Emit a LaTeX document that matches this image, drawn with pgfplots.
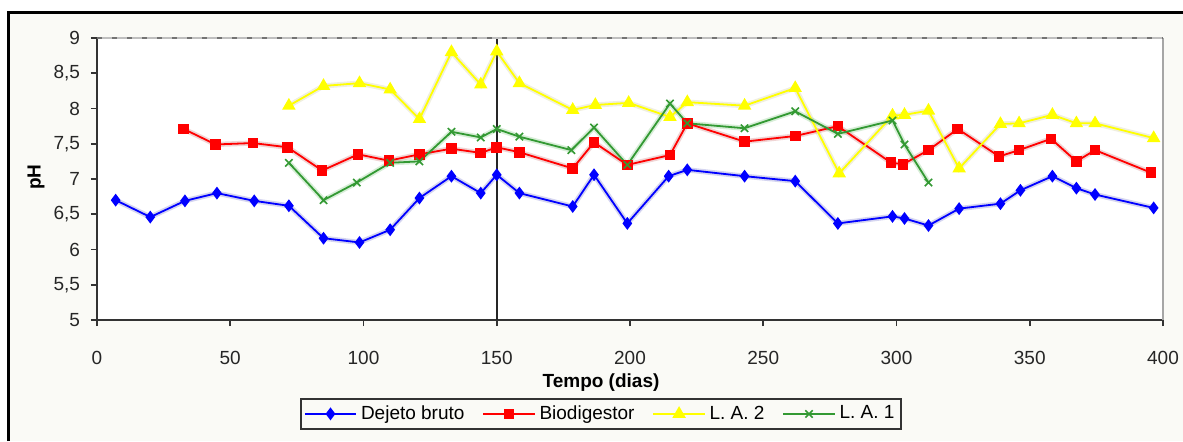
\documentclass[border=0pt]{standalone}
\usepackage{fontspec}
\setmainfont{Liberation Sans}
\usepackage{pgfplots}
\usepackage{pgfplotstable}
\pgfplotsset{compat=1.18}

\definecolor{framebg}{RGB}{250,250,246}
\definecolor{sBlue}{RGB}{0,0,255}
\definecolor{sRed}{RGB}{255,0,0}
\definecolor{sYellow}{RGB}{255,255,0}
\definecolor{sGreen}{RGB}{51,153,51}

% pH readings (day, pH)
\pgfplotstableread{
t     ph
7     6.70
20    6.46
33    6.69
45    6.80
59    6.69
72    6.62
85    6.16
98.5  6.10
110   6.28
121   6.73
133   7.04
144   6.80
150   7.06
158.5 6.80
178.5 6.61
186.5 7.06
199   6.37
214.5 7.04
221.5 7.13
243   7.04
262   6.97
278   6.37
298.5 6.47
303   6.44
312   6.34
323.5 6.58
339   6.65
346.5 6.84
358.5 7.04
367.5 6.87
374.5 6.78
396.5 6.59
}\dejeto

\pgfplotstableread{
t     ph
32.5  7.71
44.5  7.49
58.5  7.51
71.5  7.45
84.5  7.12
98    7.35
109.5 7.26
121   7.35
133   7.43
144   7.37
150   7.45
158.5 7.38
178.5 7.15
186.5 7.52
199   7.20
215   7.34
221.5 7.79
243   7.53
262   7.61
278   7.75
298   7.23
302.5 7.21
312   7.41
323   7.71
338.5 7.32
346   7.41
358   7.57
367.5 7.25
374.5 7.41
395.5 7.09
}\biodig

\pgfplotstableread{
t     ph
72    8.04
85    8.32
98.5  8.36
110   8.27
121   7.85
133   8.80
144   8.34
150   8.81
158.5 8.36
178.5 7.98
187   8.05
199.5 8.08
215   7.88
221.5 8.09
243   8.04
262   8.29
278.5 7.08
298.5 7.90
303   7.91
312   7.97
323.5 7.15
339   7.78
346   7.79
358.5 7.91
367.5 7.79
374.5 7.79
396.5 7.58
}\lagoaB

\pgfplotstableread{
t     ph
72    7.23
85    6.70
97.5  6.95
110   7.23
121   7.25
133   7.67
144   7.59
150   7.71
158.5 7.60
178   7.41
186.5 7.73
199   7.20
215   8.07
221.5 7.79
243   7.72
262   7.96
278   7.64
298.5 7.83
303   7.49
312   6.95
}\lagoaA

\begin{document}
\begin{tikzpicture}
% page frame
\path[use as bounding box] (0,0) rectangle (591.5pt,220.5pt);
\fill[framebg] (4pt,0) rectangle (591.5pt,214.5pt);
\draw[line width=1.5pt] (4pt,0) -- (4pt,214.5pt) -- (591.5pt,214.5pt);

\begin{axis}[
  at={(48.5pt,60.5pt)}, anchor=south west,
  width=533pt, height=141pt, scale only axis,
  xmin=0, xmax=400, ymin=5, ymax=9,
  axis x line=bottom, axis y line=left,
  axis line style={-, black!80, line width=1pt},
  axis background/.style={fill=white},
  xtick={0,50,...,400},
  ytick={5,5.5,...,9},
  tick align=outside, major tick length=3pt,
  tick style={black!80, line width=0.8pt},
  tick label style={font=\fontsize{9.5}{10}\selectfont, text=black!85},
  yticklabel style={xshift=-2pt},
  xticklabel style={yshift=-9pt},
  /pgf/number format/.cd, use comma, 1000 sep={}, assume math mode=true,
  /pgfplots/.cd,
  legend columns=4,
  legend style={at={(0.473,-0.333)}, anchor=center,
    draw=black!80, line width=1pt, fill=framebg,
    font=\fontsize{9.5}{10}\selectfont,
    inner sep=1.5pt,
    /tikz/every even column/.append style={column sep=7pt},
    /tikz/every odd column/.append style={column sep=0pt}},
  legend image code/.code={%
    \draw[mark repeat=2, mark phase=2]
      plot coordinates {(0cm,0cm) (0.45cm,0cm) (0.9cm,0cm)};},
  halo/.style={forget plot, no markers, line width=2.6pt, opacity=0.22},
  clip=false,
]

% reference day
\addplot[black!85, line width=1.2pt, forget plot] coordinates {(150,5) (150,9)};

% soft halos under the series lines
\addplot[halo, blue!50!gray]   table[x=t, y=ph] {\dejeto};
\addplot[halo, red!50!gray]    table[x=t, y=ph] {\biodig};
\addplot[halo, yellow!40!gray] table[x=t, y=ph] {\lagoaB};
\addplot[halo, green!40!gray]  table[x=t, y=ph] {\lagoaA};

\addplot[sBlue, line width=0.9pt, mark=diamond*, mark size=2.5pt,
  mark options={fill=sBlue, draw=sBlue}] table[x=t, y=ph] {\dejeto};
\addlegendentry{Dejeto bruto}

\addplot[sRed, line width=0.9pt, mark=square*, mark size=2.2pt,
  mark options={fill=sRed, draw=sRed}] table[x=t, y=ph] {\biodig};
\addlegendentry{Biodigestor}

\addplot[sYellow, line width=0.9pt, mark=triangle*, mark size=3pt,
  mark options={fill=sYellow, draw=sYellow}] table[x=t, y=ph] {\lagoaB};
\addlegendentry{L. A. 2}

\addplot[sGreen, line width=0.9pt, mark=x, mark size=2.6pt,
  mark options={draw=sGreen, line width=0.8pt}] table[x=t, y=ph] {\lagoaA};
\addlegendentry{L. A. 1}

% plot-area border: light right edge, dashed top edge
\draw[black!35, line width=0.8pt] (rel axis cs:1,0) -- (rel axis cs:1,1);
\draw[black!25, line width=1pt] (rel axis cs:0,1) -- (rel axis cs:1,1);
\draw[black!55, line width=1pt, dash pattern=on 2.5pt off 5pt]
  (rel axis cs:0,1) -- (rel axis cs:1,1);
\end{axis}

\node[font=\bfseries\fontsize{9.5}{10}\selectfont] at (300.5pt,29pt) {Tempo (dias)};
\node[font=\bfseries\fontsize{9.5}{10}\selectfont, rotate=90] at (18pt,132pt) {pH};
\end{tikzpicture}
\end{document}
